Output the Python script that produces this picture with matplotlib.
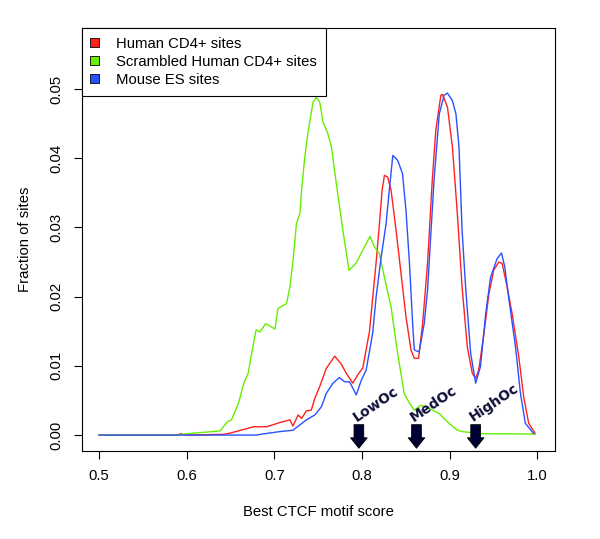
"""
CTCF motif score distributions
Human CD4+, scrambled and mouse ES binding sites
"""
from matplotlib import pyplot as plt
from matplotlib.patches import Patch

# Best CTCF motif score (x) and fraction of sites (y)
human_x = [0.5, 0.59, 0.593, 0.597, 0.642, 0.65, 0.6646, 0.676, 0.691, 0.706,
           0.7176, 0.721, 0.727, 0.731, 0.7365, 0.742, 0.746, 0.7516, 0.759, 0.7687,
           0.776, 0.782, 0.7894, 0.795, 0.8008, 0.8084, 0.816, 0.8197, 0.8228, 0.8254,
           0.829, 0.833, 0.8387, 0.8444, 0.850, 0.8557, 0.8595, 0.8644, 0.869, 0.8746,
           0.880, 0.884, 0.8898, 0.8916, 0.8973, 0.903, 0.9086, 0.914, 0.920, 0.9257,
           0.9295, 0.933, 0.939, 0.9446, 0.950, 0.956, 0.9597, 0.9654, 0.971, 0.9787,
           0.9843, 0.990, 0.9976]
human_y = [0, 0, 0.0002, 0, 0.0001, 0.0003, 0.0008, 0.0012, 0.0012, 0.0018,
           0.0022, 0.0013, 0.0029, 0.0024, 0.0035, 0.0036, 0.0053, 0.0070, 0.0096, 0.0114,
           0.0103, 0.0089, 0.0075, 0.0087, 0.0097, 0.0150, 0.0250, 0.0305, 0.0354, 0.0375,
           0.0373, 0.0354, 0.0296, 0.0233, 0.0171, 0.0123, 0.0111, 0.0111, 0.0161, 0.0248,
           0.0368, 0.0440, 0.0491, 0.0492, 0.0474, 0.0416, 0.0320, 0.0214, 0.0127, 0.0089,
           0.0082, 0.0094, 0.0147, 0.0204, 0.0238, 0.0250, 0.0248, 0.0214, 0.0176, 0.0113,
           0.0055, 0.0017, 0.0002]

scrambled_x = [0.5, 0.59, 0.6, 0.62, 0.638, 0.646, 0.651, 0.659, 0.665, 0.670,
               0.674, 0.679, 0.6835, 0.690, 0.7006, 0.704, 0.7138, 0.7176, 0.7213, 0.725,
               0.729, 0.731, 0.7346, 0.738, 0.744, 0.748, 0.7516, 0.7554, 0.761, 0.765,
               0.7706, 0.778, 0.785, 0.793, 0.8027, 0.809, 0.814, 0.8197, 0.8254, 0.833,
               0.8405, 0.848, 0.854, 0.8595, 0.867, 0.8728, 0.888, 0.899, 0.9086, 0.914,
               0.937, 0.9976]
scrambled_y = [0, 0, 0.0002, 0.0004, 0.0006, 0.0019, 0.0022, 0.0046, 0.0075, 0.0089,
               0.0118, 0.0152, 0.0149, 0.0161, 0.0153, 0.0183, 0.0190, 0.0214, 0.0253, 0.0305,
               0.0320, 0.0354, 0.0402, 0.0435, 0.0481, 0.0488, 0.0481, 0.0452, 0.0435, 0.0416,
               0.0363, 0.0296, 0.0238, 0.0248, 0.0272, 0.0287, 0.0272, 0.0262, 0.0228, 0.0185,
               0.0118, 0.0060, 0.0046, 0.0036, 0.0043, 0.0041, 0.0031, 0.0017, 0.0007, 0.0005,
               0.0002, 0.00015]

mouse_x = [0.5, 0.68, 0.6835, 0.706, 0.721, 0.7365, 0.746, 0.7536, 0.759, 0.7667,
           0.774, 0.780, 0.7857, 0.7933, 0.799, 0.8046, 0.812, 0.816, 0.8217, 0.8273,
           0.831, 0.835, 0.8405, 0.846, 0.850, 0.854, 0.8576, 0.8595, 0.865, 0.8708,
           0.8746, 0.882, 0.888, 0.8935, 0.8973, 0.903, 0.907, 0.9105, 0.914, 0.918,
           0.9238, 0.9295, 0.935, 0.941, 0.9465, 0.954, 0.959, 0.9627, 0.967, 0.975,
           0.9806, 0.9862, 0.9957]
mouse_y = [0, 0, 0.0001, 0.0005, 0.0007, 0.0022, 0.0029, 0.0041, 0.0060, 0.0075,
           0.0083, 0.0077, 0.0077, 0.0058, 0.0079, 0.0094, 0.0147, 0.0200, 0.0257, 0.0305,
           0.0354, 0.0404, 0.0397, 0.0378, 0.0325, 0.0248, 0.0161, 0.0123, 0.0120, 0.0161,
           0.0209, 0.0368, 0.0464, 0.0491, 0.0494, 0.0483, 0.0464, 0.0416, 0.0296, 0.0214,
           0.0118, 0.0075, 0.0099, 0.0176, 0.0228, 0.0255, 0.0263, 0.0243, 0.0200, 0.0127,
           0.0060, 0.0017, 0.0002]

series_labels = ["Human CD4+ sites", "Scrambled Human CD4+ sites", "Mouse ES sites"]
series_colors = ["#ff2020", "#66ee00", "#2a50ff"]

# occupancy class cut-offs (arrows)
cutoff_x = [0.7963, 0.862, 0.9295]
cutoff_labels = ["LowOc", "MedOc", "HighOc"]

x_ticks = [0.5, 0.6, 0.7, 0.8, 0.9, 1.0]
y_ticks = [0.00, 0.01, 0.02, 0.03, 0.04, 0.05]

plt.rcParams['font.family'] = ['Liberation Sans', 'DejaVu Sans']
fs = 10.7

fig = plt.figure(figsize=(6.0, 5.39), dpi=100)
ax = fig.add_axes([0.136, 0.1638, 0.789, 0.7842])

curves = [(human_x, human_y), (scrambled_x, scrambled_y), (mouse_x, mouse_y)]
for (xs, ys), col in zip(curves, series_colors):
    ax.plot(xs, ys, color=col, lw=1.0)

# arrows with rotated labels
for cx, lab in zip(cutoff_x, cutoff_labels):
    ax.annotate('', xy=(cx, -0.0019), xytext=(cx, 0.0015),
                arrowprops=dict(arrowstyle='simple,head_width=1.2,head_length=0.75,tail_width=0.7',
                                fc='#000033', ec='black', lw=0.6, shrinkA=0, shrinkB=0))
    ax.text(cx - 0.003, 0.0019, lab, rotation=34, rotation_mode='anchor',
            ha='left', va='baseline', fontsize=10, fontweight='bold',
            color='#10103a', family='DejaVu Sans')

ax.set_xlim(0.48, 1.02)
ax.set_ylim(-0.00226, 0.0588)
ax.set_xticks(x_ticks)
ax.set_xticklabels(["%.1f" % t for t in x_ticks])
ax.set_yticks(y_ticks)
ax.set_yticklabels(["%.2f" % t for t in y_ticks], rotation=90, va='center')
ax.tick_params(direction='out', length=6, width=0.8, labelsize=fs, pad=7)

for sp in ax.spines.values():
    sp.set_linewidth(0.8)

ax.set_xlabel('Best CTCF motif score', fontsize=fs)
ax.set_ylabel('Fraction of sites', fontsize=fs)
ax.xaxis.set_label_coords(0.5, -0.144)
ax.xaxis.label.set_va('center')
ax.yaxis.set_label_coords(-0.12, 0.5)
ax.yaxis.label.set_va('center')

handles = [Patch(facecolor=c, edgecolor='black', lw=0.6) for c in series_colors]
leg = ax.legend(handles, series_labels, loc='upper left', borderaxespad=0,
                fontsize=fs, fancybox=False, framealpha=1, edgecolor='black',
                handlelength=0.6, handleheight=0.6, handletextpad=1.15,
                labelspacing=0.28, borderpad=0.58)
leg.get_frame().set_linewidth(0.8)

plt.savefig('out.png', dpi=100)
